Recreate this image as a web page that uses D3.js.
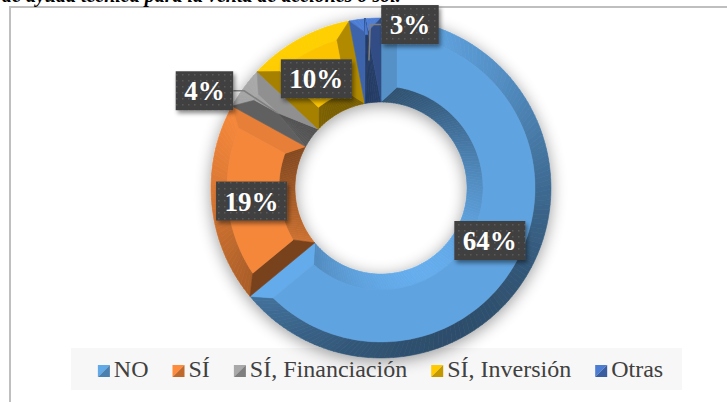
<!DOCTYPE html>
<html>
<head>
<meta charset="utf-8">
<script src="https://cdn.jsdelivr.net/npm/d3@7/dist/d3.min.js"></script>
<style>
body { margin: 0; background: #fff; }
svg { display: block; }
text { font-family: Times, serif; }
</style>
</head>
<body>
<div id="chart-area"></div>
<script>

// chart data
var categories = ["NO", "SÍ", "SÍ, Financiación", "SÍ, Inversión", "Otras"];
var values = [64, 19, 4, 10, 3];
var labels = ["64%", "19%", "4%", "10%", "3%"];
var faceColors = ["#5fa3e0", "#f5873a", "#a3a3a3", "#fcc400", "#4a78cc"];
var titleText = "de ayuda técnica para la venta de acciones o sol.";

// label nudges (small slices are pulled out with a leader line)
var labelShift = [[-7, -2], [-2, 1], [-73, -22], [-3, 3], [41, -36]];
var hasLeader = [false, false, true, false, true];

var width = 727,
	height = 402;

var cx = 381, cy = 188;
var rOuter = 170, rInner = 86, bevel = 16;

var svg = d3.select("#chart-area").append("svg")
	.attr("width", width)
	.attr("height", height);

var defs = svg.append("defs");

var shadow = defs.append("filter").attr("id", "donutShadow")
	.attr("x", "-30%").attr("y", "-30%").attr("width", "160%").attr("height", "160%");
shadow.append("feGaussianBlur").attr("in", "SourceAlpha").attr("stdDeviation", 8).attr("result", "b");
shadow.append("feOffset").attr("in", "b").attr("dx", 0).attr("dy", 3).attr("result", "o");
shadow.append("feComponentTransfer").attr("in", "o").attr("result", "s")
	.append("feFuncA").attr("type", "linear").attr("slope", 0.4);
var m1 = shadow.append("feMerge");
m1.append("feMergeNode").attr("in", "s");
m1.append("feMergeNode").attr("in", "SourceGraphic");

var lblShadow = defs.append("filter").attr("id", "labelShadow")
	.attr("x", "-20%").attr("y", "-20%").attr("width", "150%").attr("height", "160%");
lblShadow.append("feDropShadow").attr("dx", 2).attr("dy", 3).attr("stdDeviation", 2)
	.attr("flood-color", "#000").attr("flood-opacity", 0.45);

var pat = defs.append("pattern").attr("id", "dots")
	.attr("width", 6).attr("height", 6).attr("patternUnits", "userSpaceOnUse");
pat.append("rect").attr("width", 6).attr("height", 6).attr("fill", "#404040");
pat.append("rect").attr("x", 2).attr("y", 2).attr("width", 1.5).attr("height", 1.5).attr("fill", "#5a5a5a");

// frame
svg.append("rect")
	.attr("x", 10).attr("y", 7)
	.attr("width", width).attr("height", height)
	.attr("fill", "#fff")
	.attr("stroke", "#bfbfbf")
	.attr("stroke-width", 2);

// title (cut off at the top, as in the source page)
svg.append("text")
	.attr("x", 2).attr("y", 2)
	.attr("font-style", "italic")
	.attr("font-weight", "bold")
	.attr("font-size", 20)
	.attr("fill", "#000")
	.text(titleText);

// legend background
svg.append("rect")
	.attr("x", 71).attr("y", 348)
	.attr("width", 611).attr("height", 42)
	.attr("fill", "#f7f7f7");

var pie = d3.pie().sort(null).value(function(d) { return d; });
var arcs = pie(values);

function polar(a, r) {
	return [cx + r * Math.sin(a), cy - r * Math.cos(a)];
}

var light = [-0.45, -1];
var ll = Math.sqrt(light[0] * light[0] + light[1] * light[1]);
light = [light[0] / ll, light[1] / ll];

function shade(col, nx, ny) {
	var dot = nx * light[0] + ny * light[1];
	var g = 0.77 + 0.29 * dot;
	var c = d3.rgb(col);
	return d3.rgb(Math.min(255, c.r * g), Math.min(255, c.g * g), Math.min(255, c.b * g)).formatHex();
}

var line = d3.line();
var donut = svg.append("g").attr("filter", "url(#donutShadow)");

arcs.forEach(function(d, i) {
	var a0 = d.startAngle, a1 = d.endAngle, da = a1 - a0, mid = (a0 + a1) / 2;
	var col = faceColors[i];
	var g = donut.append("g");

	var ro = rOuter - bevel, ri = rInner + bevel;
	var a0o = a0 + Math.asin(bevel / ro), a1o = a1 - Math.asin(bevel / ro);
	var a0i = a0 + Math.asin(bevel / ri), a1i = a1 - Math.asin(bevel / ri);
	var apexR = ri;
	if (a0i >= a1i) {
		a0i = a1i = mid;
		apexR = Math.max(ri, bevel / Math.sin(da / 2));
	}
	var N = Math.max(2, Math.ceil(da / 0.03));

	// outer bevel strip
	for (var k = 0; k < N; k++) {
		var t0 = k / N, t1 = (k + 1) / N, tm = (t0 + t1) / 2;
		var am = a0 + da * tm;
		var fill = shade(col, Math.sin(am), -Math.cos(am));
		g.append("path")
			.attr("d", line([polar(a0 + da * t0, rOuter), polar(a0 + da * t1, rOuter),
				polar(a0o + (a1o - a0o) * t1, ro), polar(a0o + (a1o - a0o) * t0, ro)]) + "Z")
			.attr("fill", fill).attr("stroke", fill).attr("stroke-width", 0.6);
	}
	// inner bevel strip
	for (var k = 0; k < N; k++) {
		var t0 = k / N, t1 = (k + 1) / N, tm = (t0 + t1) / 2;
		var am = a0 + da * tm;
		var fill = shade(col, -Math.sin(am), Math.cos(am));
		g.append("path")
			.attr("d", line([polar(a0 + da * t0, rInner), polar(a0 + da * t1, rInner),
				polar(a0i + (a1i - a0i) * t1, apexR), polar(a0i + (a1i - a0i) * t0, apexR)]) + "Z")
			.attr("fill", fill).attr("stroke", fill).attr("stroke-width", 0.6);
	}
	// radial bevels
	var f0 = shade(col, -Math.cos(a0), -Math.sin(a0));
	g.append("path")
		.attr("d", line([polar(a0, rOuter), polar(a0o, ro), polar(a0i, apexR), polar(a0, rInner)]) + "Z")
		.attr("fill", f0).attr("stroke", f0).attr("stroke-width", 0.6);
	var f1 = shade(col, Math.cos(a1), Math.sin(a1));
	g.append("path")
		.attr("d", line([polar(a1, rOuter), polar(a1o, ro), polar(a1i, apexR), polar(a1, rInner)]) + "Z")
		.attr("fill", f1).attr("stroke", f1).attr("stroke-width", 0.6);

	// face
	var pts = [];
	for (var k = 0; k <= N; k++) pts.push(polar(a0o + (a1o - a0o) * k / N, ro));
	for (var k = N; k >= 0; k--) pts.push(polar(a0i + (a1i - a0i) * k / N, apexR));
	g.append("path").attr("d", line(pts) + "Z").attr("fill", col)
		.attr("stroke", col).attr("stroke-width", 0.4);
});

// data labels
var rMid = (rInner + rOuter) / 2;
arcs.forEach(function(d, i) {
	var mid = (d.startAngle + d.endAngle) / 2;
	var c = polar(mid, rMid);
	var bx = c[0] + labelShift[i][0], by = c[1] + labelShift[i][1];

	var g = svg.append("g");
	var t = g.append("text")
		.attr("x", bx).attr("y", by + 9.5)
		.attr("text-anchor", "middle")
		.attr("font-weight", "bold")
		.attr("font-size", 27)
		.attr("fill", "#fff")
		.text(labels[i]);
	var tw = t.node().getComputedTextLength();
	var bw = tw + 17, bh = 39;

	if (hasLeader[i]) {
		var ex = c[0] > bx ? bx + bw / 2 : bx - bw / 2;
		var kx = c[0] > bx ? ex + 11 : ex - 11;
		svg.insert("path", "g.lbl")
			.attr("d", line([[ex, by], [kx, by], c]))
			.attr("fill", "none")
			.attr("stroke", "#7f7f7f")
			.attr("stroke-width", 1.5);
	}

	g.attr("class", "lbl");
	g.insert("rect", "text")
		.attr("x", bx - bw / 2).attr("y", by - bh / 2)
		.attr("width", bw).attr("height", bh)
		.attr("fill", "url(#dots)")
		.attr("filter", "url(#labelShadow)");
});

// legend
var legendColors = faceColors.map(function(c) { return [d3.rgb(c).brighter(0.1).formatHex(), d3.rgb(c).darker(0.7).formatHex()]; });
var lg = svg.append("g");
var items = [];
var total = 0;
categories.forEach(function(name, i) {
	var it = lg.append("g");
	var tx = it.append("text")
		.attr("y", 377)
		.attr("x", 16)
		.attr("font-size", 24)
		.attr("fill", "#404040")
		.text(name);
	var w = 16 + tx.node().getComputedTextLength();
	it.append("path").attr("d", line([[0, 365], [12, 365], [0, 377]]) + "Z").attr("fill", legendColors[i][0]);
	it.append("path").attr("d", line([[12, 365], [12, 377], [0, 377]]) + "Z").attr("fill", legendColors[i][1]);
	items.push({g: it, w: w});
	total += w;
});
total += 24 * (items.length - 1);
var lx = 380.5 - total / 2;
items.forEach(function(it) {
	it.g.attr("transform", "translate(" + lx + ",0)");
	lx += it.w + 24;
});

</script>
</body>
</html>
